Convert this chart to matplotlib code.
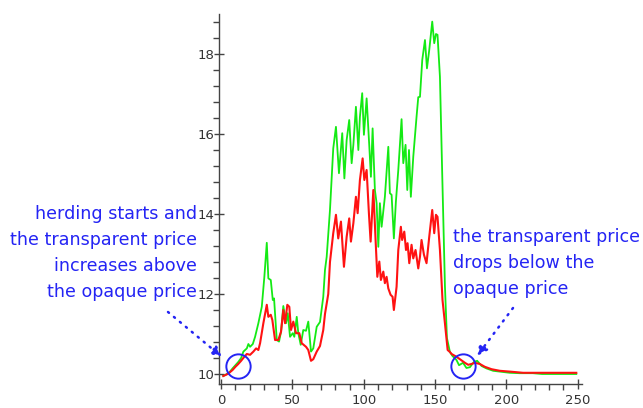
import matplotlib
matplotlib.use('Agg')
import matplotlib.pyplot as plt
from matplotlib.ticker import MultipleLocator

# transparent price (green)
x_green = [1.5, 4, 6, 8, 10, 12, 14, 15.6, 18, 19.1, 20.3, 22.2, 23.8, 26.1, 28.5,
           30.3, 32, 33.1, 34.8, 36.2, 37.1, 39, 40.6, 42, 43.6, 45.5, 46.7, 48.3,
           50.2, 51.3, 53, 54.1, 55.8, 57.6, 59.5, 61.1, 63, 64.6, 67, 69.3, 71.6,
           72.8, 74, 76.3, 78.6, 80.5, 82.6, 84.9, 86.4, 88, 89.8, 91.5, 92.7, 94.5,
           96.2, 97.3, 98.9, 100.1, 102, 103.9, 105, 106.2, 107.8, 109, 110.2,
           111.3, 112.5, 114.8, 117.2, 118.3, 119.5, 121.1, 122.5, 124.2, 126.5,
           127.7, 129.3, 130.5, 131.7, 133, 134.7, 137, 138.2, 139.4, 141, 142.9,
           144.3, 145.9, 148, 149.4, 150.6, 151.7, 153.4, 155, 156.9, 158.3, 160.4,
           162.2, 165, 166.8, 169.6, 172, 174.4, 177.2, 179.5, 182.6, 186, 190.7,
           195.4, 202.4, 209.4, 218.5, 225, 235, 249]
y_green = [9.95, 10.0, 10.05, 10.14, 10.22, 10.3, 10.4, 10.56, 10.64, 10.75, 10.68,
           10.75, 10.93, 11.27, 11.68, 12.43, 13.28, 12.39, 12.35, 11.85, 11.89,
           10.85, 10.81, 11.06, 11.7, 11.27, 11.52, 10.93, 11.02, 10.93, 11.43,
           11.02, 10.73, 11.1, 11.08, 11.31, 10.56, 10.64, 11.18, 11.3, 11.93, 12.6,
           12.93, 14.1, 15.64, 16.18, 15.02, 16.02, 14.89, 15.85, 16.35, 15.27,
           15.73, 16.68, 15.6, 16.43, 17.02, 15.98, 16.89, 15.68, 14.93, 16.14,
           14.6, 14.27, 13.18, 14.27, 13.68, 14.43, 15.68, 14.52, 14.48, 13.39,
           14.3, 15.1, 16.37, 15.27, 15.73, 14.6, 15.6, 14.43, 15.43, 16.43, 16.92,
           16.93, 17.85, 18.35, 17.64, 18.1, 18.81, 18.27, 18.5, 18.48, 17.43,
           15.0, 12.2, 10.9, 10.55, 10.45, 10.35, 10.22, 10.28, 10.15, 10.17, 10.3,
           10.33, 10.2, 10.14, 10.08, 10.06, 10.03, 10.02, 10.02, 10.0, 10.0, 10.0]

# opaque price (red)
x_red = [1.5, 4, 6, 8, 10, 12, 14, 16, 18, 20.3, 22.6, 24.5, 26.1, 27.3, 29.6, 32,
         33.1, 34.8, 35.9, 37.8, 40.1, 42, 43.6, 44.8, 46.4, 47.8, 49, 50.6, 52.5,
         54.8, 56.5, 59.5, 61.1, 63, 64.6, 67, 69.3, 71.6, 72.8, 75.1, 76.3, 78.6,
         80.5, 82.1, 84, 86.1, 88, 89.8, 91, 92.7, 94.5, 95.7, 97.3, 99.2, 100.4,
         102, 103.6, 104.8, 106.7, 108.5, 109.5, 110.9, 112, 113.7, 114.8, 116,
         117.2, 118.8, 120.2, 121.1, 123, 124.2, 126, 126.9, 128.4, 129.6, 130.7,
         131.9, 133.5, 134.7, 136.3, 138.2, 139.4, 140.5, 142.2, 144, 145.9, 148,
         149.4, 150.6, 151.7, 153.4, 155.2, 156.9, 158.8, 160.4, 161.6, 165, 167.4,
         170.9, 173.2, 175.5, 177.9, 181.4, 184.9, 189.6, 195.4, 202.4, 211.7,
         223.4, 235, 249]
y_red = [9.95, 9.99, 10.04, 10.1, 10.18, 10.25, 10.33, 10.42, 10.5, 10.48, 10.56,
         10.64, 10.6, 10.77, 11.27, 11.73, 11.43, 11.48, 11.35, 10.85, 10.85, 11.06,
         11.6, 11.27, 11.73, 11.68, 11.1, 11.31, 11.02, 11.02, 10.77, 10.68, 10.6,
         10.33, 10.37, 10.56, 10.7, 11.1, 11.5, 12.0, 12.8, 13.52, 13.98, 13.39,
         13.81, 12.68, 13.43, 13.89, 13.31, 13.77, 14.43, 14.02, 14.85, 15.39,
         14.85, 15.1, 14.02, 13.31, 14.6, 13.18, 12.43, 12.81, 12.35, 12.56, 12.27,
         12.43, 12.14, 11.98, 11.93, 11.6, 12.18, 13.1, 13.68, 13.35, 13.56, 13.1,
         13.27, 12.77, 13.23, 12.89, 13.1, 12.64, 12.93, 13.35, 12.98, 12.77, 13.43,
         14.1, 13.52, 13.98, 13.93, 13.1, 11.85, 11.27, 10.6, 10.55, 10.5, 10.43,
         10.37, 10.28, 10.23, 10.25, 10.28, 10.25, 10.18, 10.12, 10.08, 10.06,
         10.03, 10.03, 10.03, 10.03]

circles = [(12, 10.2), (169.5, 10.2)]
note_left = 'herding starts and\nthe transparent price\nincreases above\nthe opaque price'
note_right = 'the transparent price\ndrops below the\nopaque price'
blue = '#2424f4'

fig = plt.figure(figsize=(6.43, 4.08), dpi=100)
ax = fig.add_axes([219/643, 1-384/408, (582-219)/643, (384-14)/408])

ax.plot(x_green, y_green, color='#14ea14', lw=1.3)
ax.plot(x_red, y_red, color='#ff1212', lw=1.5)

for cx, cy in circles:
    ax.plot(cx, cy, 'o', ms=17.5, mfc='none', mec=blue, mew=1.4)

ax.set_xlim(-1.5, 253)
ax.set_ylim(9.75, 19.0)
ax.xaxis.set_major_locator(MultipleLocator(50))
ax.xaxis.set_minor_locator(MultipleLocator(10))
ax.yaxis.set_major_locator(MultipleLocator(2))
ax.yaxis.set_minor_locator(MultipleLocator(0.4))
for s in ['top', 'right']:
    ax.spines[s].set_visible(False)
for s in ['left', 'bottom']:
    ax.spines[s].set_color('#444444')
    ax.spines[s].set_linewidth(1.0)
ax.tick_params(which='major', direction='inout', length=7, width=1, color='#444444',
               labelsize=9.5, labelcolor='#333333')
ax.tick_params(which='minor', direction='out', length=4, width=1, color='#444444')
ax.tick_params(axis='y', which='major', pad=0)
ax.tick_params(axis='x', which='major', pad=4)

fig.text(197/643, 1-253/408, note_left, ha='right', va='center', multialignment='right',
         color=blue, fontsize=12.6, linespacing=1.56)
fig.text(453/643, 1-263/408, note_right, ha='left', va='center', multialignment='left',
         color=blue, fontsize=12.6, linespacing=1.56)

arrow = dict(arrowstyle='-|>', color=blue, lw=1.8, linestyle=(0, (0.5, 2.6)),
             mutation_scale=15, shrinkA=0, shrinkB=0)
ax.annotate('', xy=(222, 408-357), xycoords='figure pixels',
            xytext=(168, 408-312), textcoords='figure pixels', arrowprops=arrow)
ax.annotate('', xy=(477, 408-356), xycoords='figure pixels',
            xytext=(513, 408-308), textcoords='figure pixels', arrowprops=arrow)

fig.savefig('out.png', dpi=100)
